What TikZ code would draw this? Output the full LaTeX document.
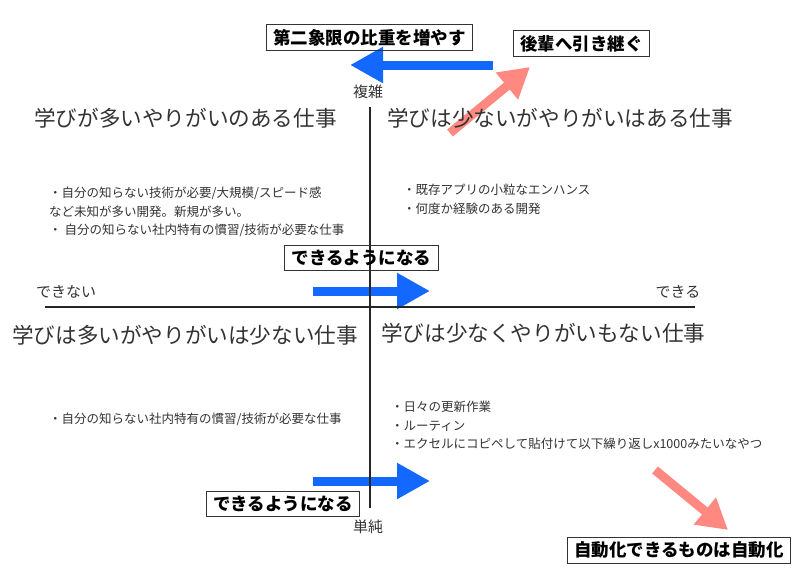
\documentclass[tikz,border=0pt]{standalone}
\usepackage{fontspec}
\setmainfont{Noto Sans CJK JP}
\usetikzlibrary{arrows.meta}

\definecolor{arrowblue}{RGB}{18,104,255}
\definecolor{arrowpink}{RGB}{255,136,128}

\tikzset{
  quadtitle/.style={font=\fontsize{21.6}{25}\selectfont, text=black!80, inner sep=0pt, anchor=west},
  note/.style={font=\fontsize{12.5}{18.6}\selectfont, text=black!80, align=left, inner sep=0pt, anchor=north west},
  axislabel/.style={font=\fontsize{15}{18}\selectfont, text=black!80, inner sep=0pt},
  actionbox/.style={draw=black!80, line width=0.8pt, font=\bfseries\fontsize{17.5}{20}\selectfont, inner xsep=7pt, inner ysep=4.5pt},
  bluearrow/.style={draw=arrowblue, line width=9pt, -{Triangle[length=33pt,width=34pt]}},
  pinkarrow/.style={draw=arrowpink, line width=9pt, -{Triangle[length=30pt,width=33pt]}},
  axis/.style={draw=black!85, line width=1.5pt},
}

\begin{document}
\begin{tikzpicture}[x=1pt,y=-1pt]
  \fill[white] (0,0) rectangle (800,571);
  \useasboundingbox (0,0) rectangle (800,571);

  % arrow ends
  \coordinate (shiftS) at (493,65);
  \coordinate (shiftE) at (350,65);
  \coordinate (handS) at (450,133);
  \coordinate (handE) at (530,67);
  \coordinate (learnAS) at (313,291);
  \coordinate (learnAE) at (430,291);
  \coordinate (learnBS) at (313,481);
  \coordinate (learnBE) at (430,481);
  \coordinate (autoS) at (655,470);
  \coordinate (autoE) at (728,530);

  \draw[bluearrow] (shiftS) -- (shiftE);
  \draw[bluearrow] (learnAS) -- (learnAE);
  \draw[bluearrow] (learnBS) -- (learnBE);
  \draw[pinkarrow] (handS) -- (handE);
  \draw[pinkarrow] (autoS) -- (autoE);

  % axes
  \coordinate (xl) at (45,307);
  \coordinate (xr) at (695,307);
  \coordinate (yt) at (370,107);
  \coordinate (yb) at (370,508);
  \draw[axis] (xl) -- (xr);
  \draw[axis] (yt) -- (yb);

  \node[axislabel] (complex) at (368,92) {複雑};
  \node[axislabel] (simple) at (368,527) {単純};
  \node[axislabel] (cannot) at (66,292) {できない};
  \node[axislabel] (can) at (678,292) {できる};

  % quadrants
  \node[quadtitle] (q2) at (34,118) {学びが多いやりがいのある仕事};
  \node[quadtitle] (q1) at (387,118) {学びは少ないがやりがいはある仕事};
  \node[quadtitle] (q3) at (12,335) {学びは多いがやりがいは少ない仕事};
  \node[quadtitle] (q4) at (381,333) {学びは少なくやりがいもない仕事};

  \node[note] (n2) at (49,187) {・自分の知らない技術が必要/大規模/スピード感\\など未知が多い開発。新規が多い。\\・ 自分の知らない社内特有の慣習/技術が必要な仕事};
  \node[note] (n1) at (403,184) {・既存アプリの小粒なエンハンス\\・何度か経験のある開発};
  \node[note] (n3) at (49,413) {・自分の知らない社内特有の慣習/技術が必要な仕事};
  \node[note] (n4) at (391,401) {・日々の更新作業\\・ルーティン\\・エクセルにコピペして貼付けて以下繰り返しx1000みたいなやつ};

  % actions
  \node[actionbox] (shift) at (369.5,37.5) {第二象限の比重を増やす};
  \node[actionbox] (hand) at (581.5,43.5) {後輩へ引き継ぐ};
  \node[actionbox] (learnA) at (361.5,258) {できるようになる};
  \node[actionbox] (learnB) at (283,504) {できるようになる};
  \node[actionbox] (auto) at (679,550) {自動化できるものは自動化};
\end{tikzpicture}
\end{document}
